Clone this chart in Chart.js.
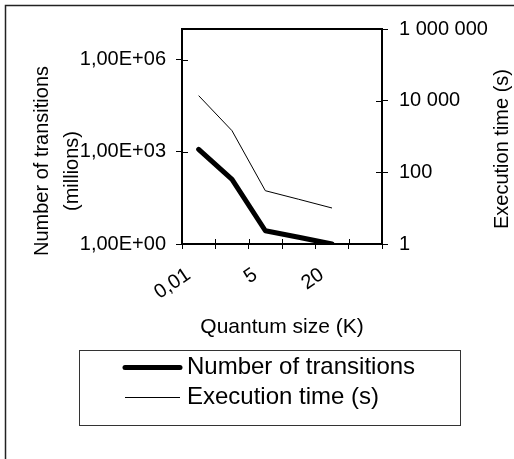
<!DOCTYPE html>
<html><head><meta charset="utf-8">
<script src="https://cdn.jsdelivr.net/npm/chart.js@4"></script>
<style>html,body{margin:0;padding:0;background:#fff;overflow:hidden}canvas{display:block}</style>
</head><body>
<canvas id="c" width="514" height="459"></canvas>
<script>
const categories = ['0,01', '', '5', '', '20', ''];
const transitions = [1210, 128, 2.7, 1.65, 1];
const executionTime = [13800, 1450, 30.7, 17.7, 10.1];
const leftTicks = [1, 1e3, 1e6];
const rightTicks = [1, 1e2, 1e4, 1e6];
const seriesNames = ['Number of transitions', 'Execution time (s)'];
const leftTitle = ['Number of transitions', '(millions)'];
const rightTitle = 'Execution time (s)';
const xTitle = 'Quantum size (K)';

const FAM = "'Liberation Sans', Arial, sans-serif";

function fmtLeft(v) {
  const e = Math.round(Math.log10(v));
  const m = v / Math.pow(10, e);
  return m.toFixed(2).replace('.', ',') + 'E+' + String(e).padStart(2, '0');
}
function fmtRight(v) {
  return String(Math.round(v)).replace(/\B(?=(\d{3})+(?!\d))/g, ' ');
}

const decor = {
  id: 'decor',
  beforeDraw(chart) {
    const ctx = chart.ctx;
    ctx.save();
    ctx.fillStyle = '#fff';
    ctx.fillRect(0, 0, chart.width, chart.height);
    ctx.strokeStyle = '#222';
    ctx.lineWidth = 1.5;
    ctx.beginPath();
    ctx.moveTo(5.5, chart.height);
    ctx.lineTo(5.5, 5.5);
    ctx.lineTo(chart.width, 5.5);
    ctx.stroke();
    ctx.restore();
  },
  afterDraw(chart) {
    const { ctx, chartArea: a, scales } = chart;
    ctx.save();
    ctx.strokeStyle = '#000';
    ctx.lineWidth = 2;
    ctx.strokeRect(a.left, a.top, a.right - a.left, a.bottom - a.top);
    ctx.lineWidth = 1;
    ctx.beginPath();
    scales.y.ticks.forEach(t => {
      const y = Math.round(scales.y.getPixelForValue(t.value)) + 0.5;
      ctx.moveTo(a.left, y); ctx.lineTo(a.left + 6, y);
    });
    scales.y1.ticks.forEach(t => {
      const y = Math.round(scales.y1.getPixelForValue(t.value)) + 0.5;
      ctx.moveTo(a.right - 6, y); ctx.lineTo(a.right, y);
    });
    for (let i = 0; i <= categories.length; i++) {
      const x = Math.round(scales.x.getPixelForValue(i - 0.5)) + 0.5;
      ctx.moveTo(x, a.bottom - 5); ctx.lineTo(x, a.bottom);
    }
    ctx.stroke();

    ctx.fillStyle = '#000';
    ctx.textAlign = 'center';
    ctx.textBaseline = 'middle';
    ctx.font = '20px ' + FAM;
    ctx.save();
    ctx.translate(42, 161); ctx.rotate(-Math.PI / 2);
    ctx.fillText(leftTitle[0], 0, 0);
    ctx.restore();
    ctx.save();
    ctx.translate(72, 171); ctx.rotate(-Math.PI / 2);
    ctx.fillText(leftTitle[1], 0, 0);
    ctx.restore();
    ctx.save();
    ctx.translate(502, 149); ctx.rotate(-Math.PI / 2);
    ctx.fillText(rightTitle, 0, 0);
    ctx.restore();
    ctx.font = '21px ' + FAM;
    ctx.fillText(xTitle, (a.left + a.right) / 2, 327);

    ctx.strokeStyle = '#333';
    ctx.lineWidth = 1;
    ctx.strokeRect(79.5, 350.5, 381, 75);
    const rows = [367.5, 397.5];
    ctx.font = '24px ' + FAM;
    ctx.textAlign = 'left';
    chart.data.datasets.forEach((ds, i) => {
      ctx.strokeStyle = ds.borderColor;
      ctx.lineWidth = ds.borderWidth;
      ctx.lineCap = ds.borderCapStyle || 'butt';
      ctx.beginPath();
      ctx.moveTo(125, rows[i]); ctx.lineTo(180, rows[i]);
      ctx.stroke();
      ctx.fillText(ds.label, 187, rows[i] - 0.5);
    });
    ctx.restore();
  }
};

const tickFont = { family: FAM, size: 20 };

new Chart(document.getElementById('c'), {
  type: 'line',
  data: {
    labels: categories,
    datasets: [
      { label: seriesNames[0], data: transitions, yAxisID: 'y', borderColor: '#000', borderWidth: 5,
        borderCapStyle: 'round', borderJoinStyle: 'round', pointRadius: 0, tension: 0, fill: false },
      { label: seriesNames[1], data: executionTime, yAxisID: 'y1', borderColor: '#000', borderWidth: 1,
        pointRadius: 0, tension: 0, fill: false }
    ]
  },
  options: {
    responsive: false, animation: false, devicePixelRatio: 1,
    layout: { padding: { top: 29, left: 0, right: 0, bottom: 0 } },
    plugins: { legend: { display: false }, tooltip: { enabled: false } },
    scales: {
      x: {
        type: 'category', offset: true,
        grid: { offset: true, drawOnChartArea: false, drawTicks: true, tickLength: 5, color: '#000', tickColor: '#000' },
        border: { display: false },
        ticks: { autoSkip: false, minRotation: 34, maxRotation: 34, padding: 14, labelOffset: -10, font: tickFont, color: '#000' },
        afterFit(s) { s.height = 215; }
      },
      y: {
        type: 'logarithmic', position: 'left', min: 1, max: 1e7,
        afterBuildTicks(s) { s.ticks = leftTicks.map(v => ({ value: v })); },
        ticks: { callback: v => fmtLeft(v), padding: 10, font: tickFont, color: '#000' },
        grid: { drawOnChartArea: false, tickLength: 6, color: '#000', tickColor: '#000' },
        border: { display: false },
        afterFit(s) { s.width = 182; }
      },
      y1: {
        type: 'logarithmic', position: 'right', min: 1, max: 1e6,
        afterBuildTicks(s) { s.ticks = rightTicks.map(v => ({ value: v })); },
        ticks: { callback: v => fmtRight(v), padding: 11, font: tickFont, color: '#000' },
        grid: { drawOnChartArea: false, tickLength: 6, color: '#000', tickColor: '#000' },
        border: { display: false },
        afterFit(s) { s.width = 132; }
      }
    }
  },
  plugins: [decor]
});
</script>
</body></html>
